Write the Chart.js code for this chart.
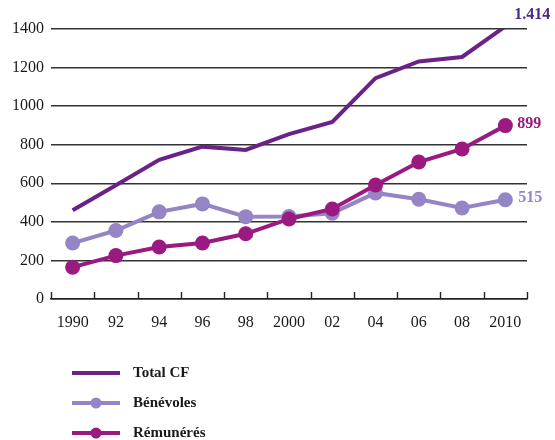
<!DOCTYPE html>
<html>
<head>
<meta charset="utf-8">
<script src="https://cdn.jsdelivr.net/npm/chart.js@4/dist/chart.umd.min.js"></script>
<style>
  html, body {margin: 0; padding: 0; background: #fff;}
  #wrap {width: 555px; height: 440px; position: relative;}
</style>
</head>
<body>
<div id="wrap"><canvas id="chart1canvas"></canvas></div>
<script>
/* Data */
const years=["1990","92","94","96","98","2000","02","04","06","08","2010"];
const totalCF=[460,590,722,790,773,855,918,1145,1232,1255,1414];
const benevoles=[290,355,452,493,427,428,445,550,517,472,515];
const remuneres=[165,225,270,290,338,415,467,591,710,778,899];
const seriesNames=["Total CF","Bénévoles","Rémunérés"];
const endLabels=["1.414","899","515"];
const yTicks=[0,200,400,600,800,1000,1200,1400];

const colTotal="#6a2287";
const colBene="#9585c5";
const colRemu="#9a1a80";
const serif="'Liberation Serif', 'DejaVu Serif', serif";

/* End labels + upward tick marks + legend */
const extrasPlugin={
  id: 'extras',
  afterDatasetsDraw(chart) {
    const ctx=chart.ctx;
    const x=chart.scales.x;
    const y=chart.scales.y;

    /* tick marks on the category boundaries, pointing up */
    ctx.save();
    ctx.strokeStyle="#222";
    ctx.lineWidth=1.4;
    const step=x.getPixelForValue(1)-x.getPixelForValue(0);
    for (let i=0;i<=years.length;i++) {
      const px=Math.round(x.getPixelForValue(0)-step/2+i*step)+0.5;
      ctx.beginPath();
      ctx.moveTo(px,y.bottom);
      ctx.lineTo(px,y.bottom-7);
      ctx.stroke();
    }
    ctx.restore();

    /* value labels at the end of each line */
    const labelInfo=[
      {ds: 0, text: endLabels[0], color: "#4b2b8a", dx: 9, dy: -11},
      {ds: 2, text: endLabels[1], color: colRemu, dx: 12, dy: -2},
      {ds: 1, text: endLabels[2], color: colBene, dx: 13, dy: -2}
    ];
    ctx.save();
    ctx.textBaseline="middle";
    ctx.textAlign="left";
    for (const l of labelInfo) {
      const meta=chart.getDatasetMeta(l.ds);
      const pt=meta.data[meta.data.length-1];
      ctx.fillStyle=l.color;
      ctx.font="bold 16px "+serif;
      ctx.fillText(l.text,pt.x+l.dx,pt.y+l.dy);
    }
    ctx.restore();

    /* legend */
    ctx.save();
    const rows=[373,403,433];
    chart.data.datasets.forEach((ds,i)=>{
      const ly=rows[i];
      ctx.strokeStyle=ds.borderColor;
      ctx.lineWidth=4;
      ctx.beginPath();
      ctx.moveTo(72,ly);
      ctx.lineTo(120,ly);
      ctx.stroke();
      if (ds.pointRadius>0) {
        ctx.fillStyle=ds.borderColor;
        ctx.beginPath();
        ctx.arc(96,ly,5.5,0,Math.PI*2);
        ctx.fill();
      }
      ctx.fillStyle="#1a1a1a";
      ctx.font="bold 15px "+serif;
      ctx.textBaseline="middle";
      ctx.textAlign="left";
      ctx.fillText(seriesNames[i],133,ly);
    });
    ctx.restore();
  }
};

const chartData={
  labels: years,
  datasets: [
    {data: totalCF, borderColor: colTotal, backgroundColor: colTotal, borderWidth: 4, pointRadius: 0, order: 3},
    {data: benevoles, borderColor: colBene, backgroundColor: colBene, borderWidth: 4, pointRadius: 7.5, pointBorderWidth: 0, order: 2},
    {data: remuneres, borderColor: colRemu, backgroundColor: colRemu, borderWidth: 4, pointRadius: 7.5, pointBorderWidth: 0, order: 1}
  ]
};

const chartOptions={
  responsive: true,
  maintainAspectRatio: false,
  animation: false,
  layout: {padding: {top: 29, right: 28, bottom: 101, left: 0}},
  scales: {
    x: {
      type: 'category',
      offset: true,
      grid: {display: false},
      border: {display: true, color: "#222", width: 1.5},
      ticks: {color: "#1a1a1a", font: {family: serif, size: 16}, padding: 6, maxRotation: 0, autoSkip: false},
      afterFit: scale=>{scale.height=40;}
    },
    y: {
      min: 0, max: 1400,
      afterBuildTicks: scale=>{scale.ticks=yTicks.map(v=>({value: v}));},
      grid: {color: "#333", lineWidth: 1.5, drawTicks: false},
      border: {display: false},
      ticks: {color: "#1a1a1a", font: {family: serif, size: 16}, padding: 7, callback: v=>String(v)},
      afterFit: scale=>{scale.width=51;}
    }
  },
  plugins: {legend: {display: false}, tooltip: {enabled: false}}
};

new Chart(chart1canvas,{type: 'line', data: chartData, options: chartOptions, plugins: [extrasPlugin]});
</script>
</body>
</html>
